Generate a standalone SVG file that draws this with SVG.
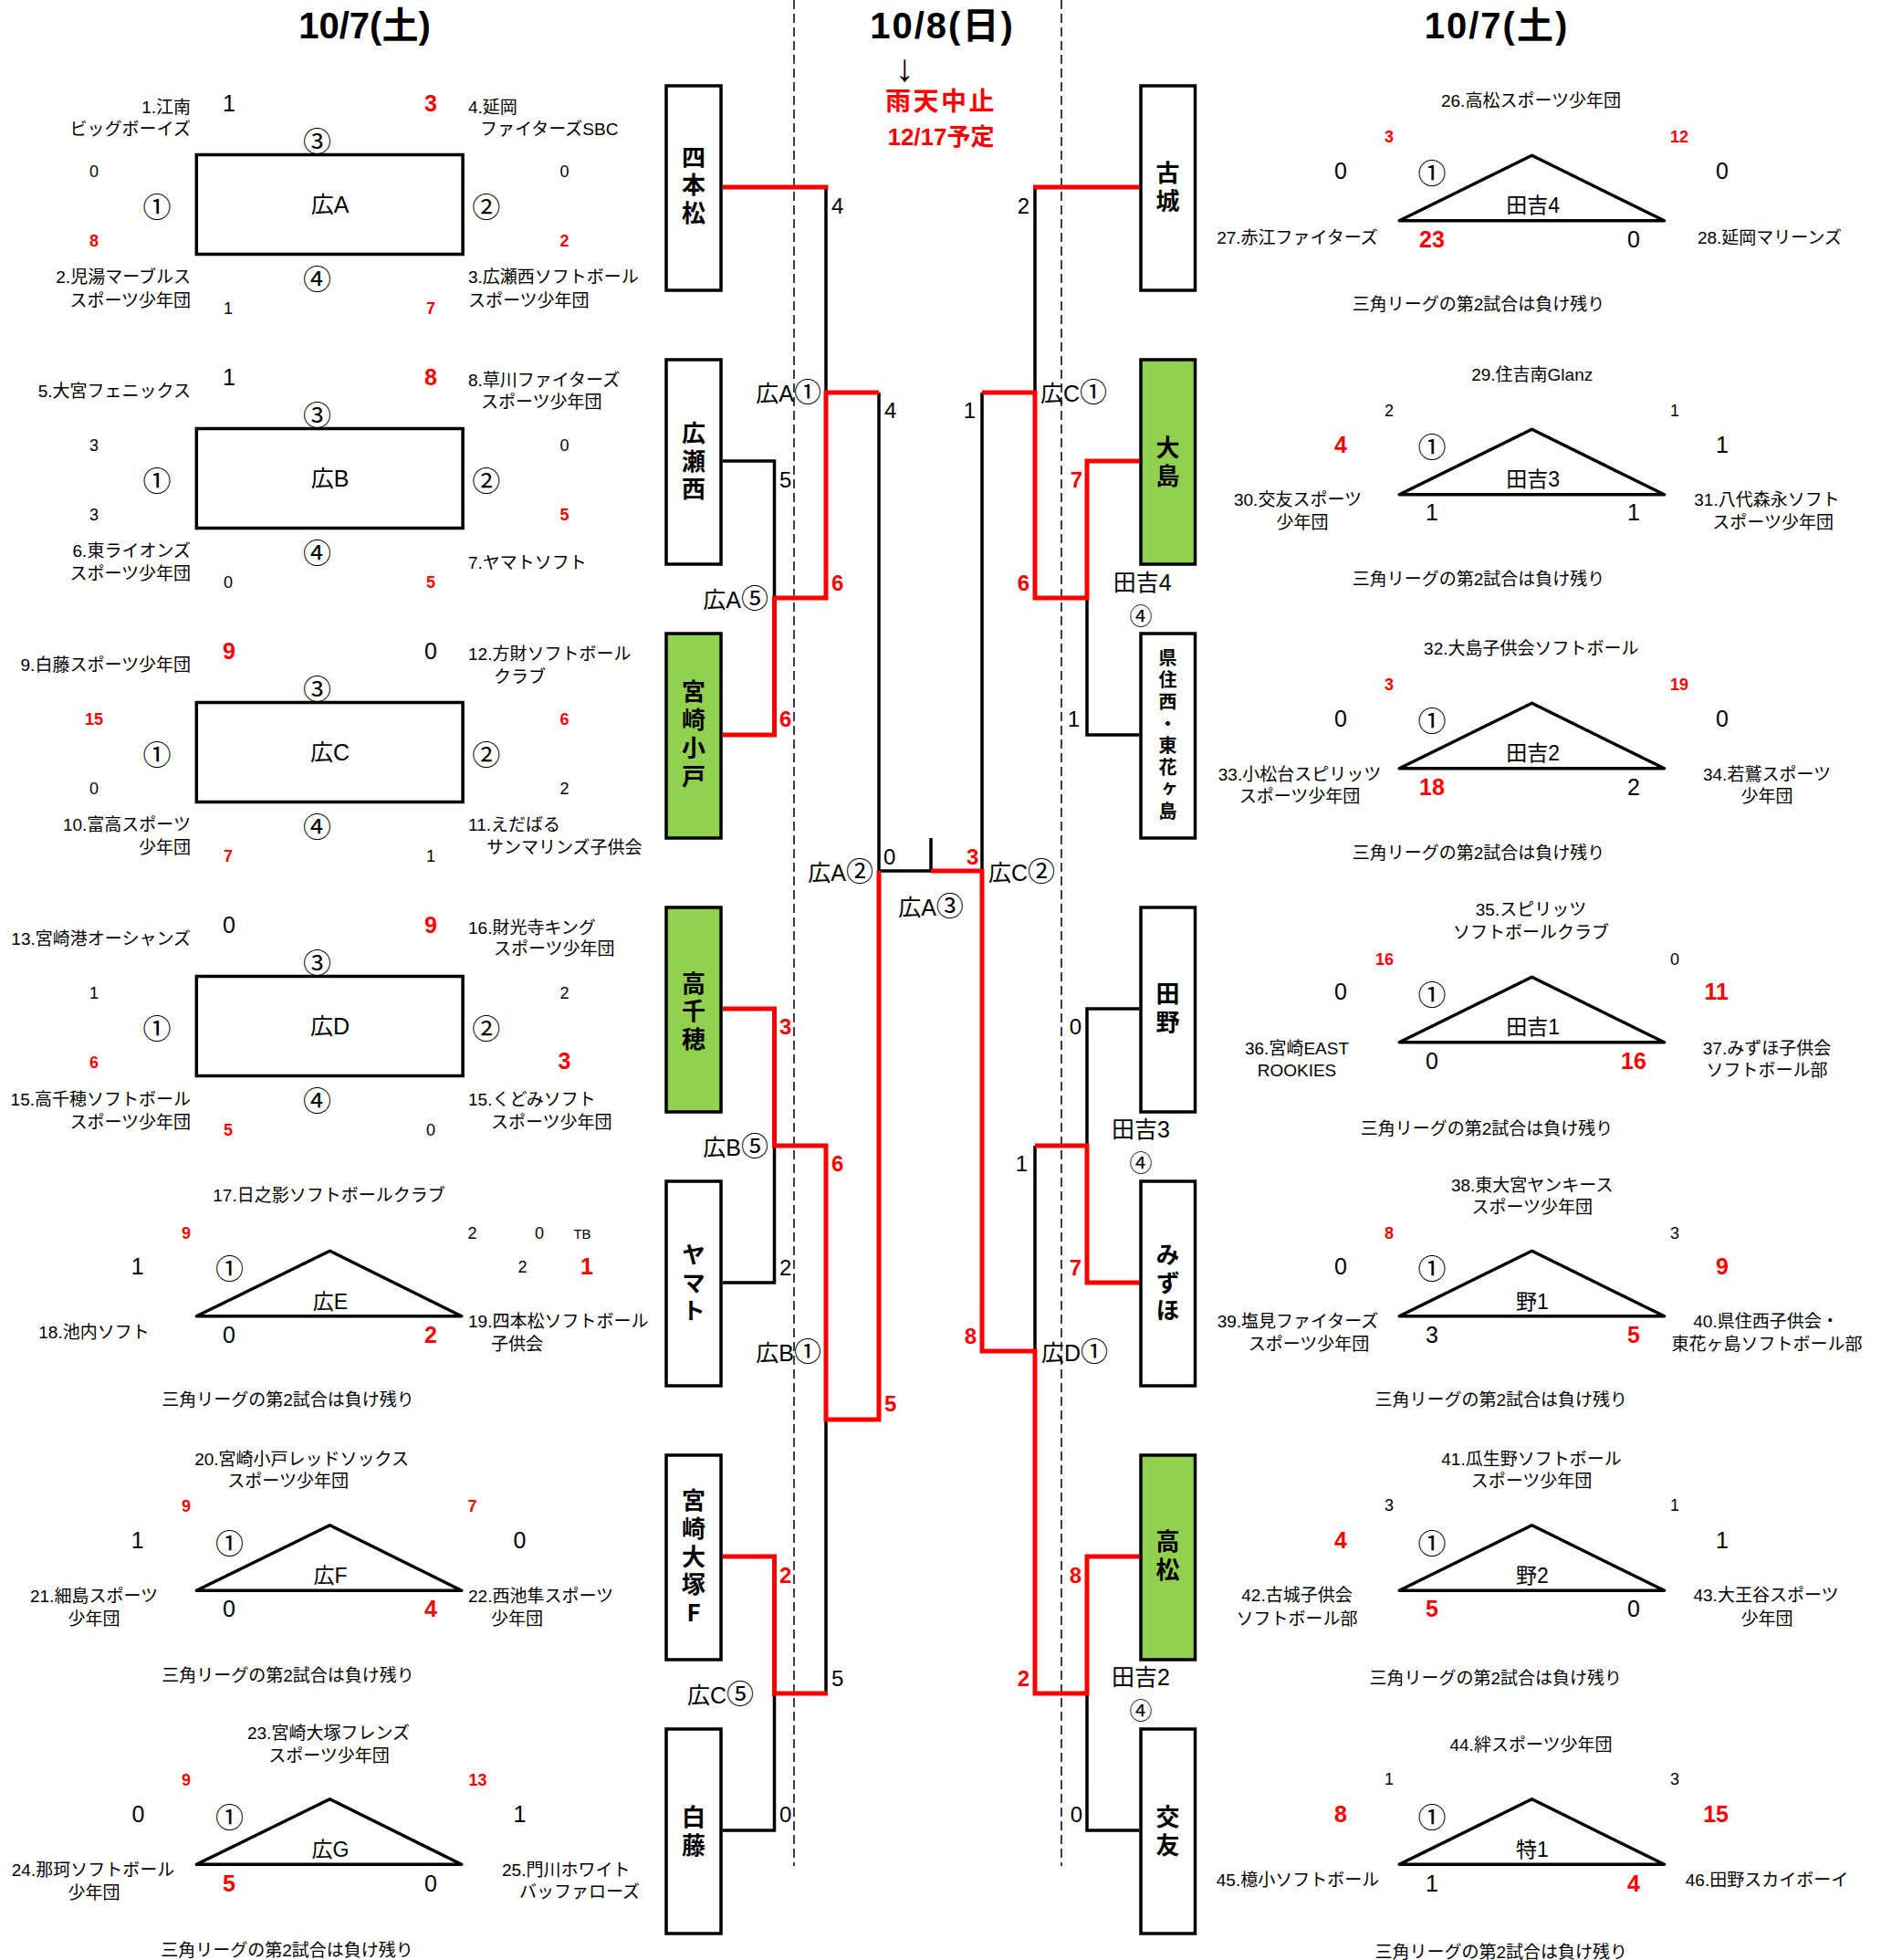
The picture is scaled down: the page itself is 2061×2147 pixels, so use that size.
<svg xmlns="http://www.w3.org/2000/svg" width="2061" height="2147" viewBox="0 0 2061 2147">
<style>
text{font-family:"Liberation Sans","Noto Sans CJK JP",sans-serif;fill:#000}
.n{font-size:19px}
.m{text-anchor:middle}
.e{text-anchor:end}
.big{font-size:25px;text-anchor:middle}
.sm{font-size:18px;text-anchor:middle}
.r{fill:#f00;font-weight:bold}
.c{font-family:"Noto Sans CJK JP",sans-serif;font-size:31px;text-anchor:middle;dominant-baseline:central}
.ci{font-family:"Noto Sans CJK JP",sans-serif;font-size:30px}
.c4{font-family:"Noto Sans CJK JP",sans-serif;font-size:25px;text-anchor:middle}
.lb{font-size:25px;text-anchor:middle}
.tl{font-size:23px;text-anchor:middle}
.bl{font-size:25px}
.sc{font-size:24px}
.title{font-size:40px;font-weight:bold;text-anchor:middle}
.vt{font-family:"Noto Sans CJK JP",sans-serif;font-size:26px;font-weight:bold;text-anchor:middle;writing-mode:vertical-rl;text-orientation:upright;letter-spacing:4.5px}
.frame{fill:none;stroke:#000;stroke-width:3.5}
.tri{fill:none;stroke:#000;stroke-width:3.5;stroke-linejoin:round}
.box{fill:#fff;stroke:#000;stroke-width:3.5}
.g{fill:#92D050}
.k{fill:none;stroke:#000;stroke-width:3.5}
.rd{fill:none;stroke:#f00;stroke-width:5}
.dash{stroke:#000;stroke-width:1.5;stroke-dasharray:10 5}
</style>
<rect width="2061" height="2147" fill="#fff"/>

<g id="titles">
<text class="title" x="399.5" y="42">10/7(土)</text>
<text class="title" x="1032.5" y="42" letter-spacing="2">10/8(日)</text>
<text class="title" x="1640" y="42" letter-spacing="2">10/7(土)</text>
<text x="991" y="89" font-family="Noto Sans CJK JP,sans-serif" font-size="42" text-anchor="middle">↓</text>
<text x="1031" y="121" font-size="28" font-weight="bold" text-anchor="middle" letter-spacing="2.5" style="fill:#f00">雨天中止</text>
<text x="1031" y="159" font-size="26" font-weight="bold" text-anchor="middle" style="fill:#f00">12/17予定</text>
</g>

<g id="dashes">
<line class="dash" x1="870" y1="0" x2="870" y2="2044"/>
<line class="dash" x1="1163" y1="0" x2="1163" y2="2044"/>
</g>

<!-- Left rectangle groups -->
<g id="grpA">
<rect class="frame" x="215.3" y="169.5" width="291.8" height="109"/>
<text class="lb" x="361.5" y="233">広A</text>
<text class="c" x="347.6" y="152">③</text><text class="c" x="172" y="224">①</text><text class="c" x="532.7" y="224">②</text><text class="c" x="347.6" y="303">④</text>
<text class="big" x="251" y="121.5">1</text><text class="big r" x="472" y="121.5">3</text>
<text class="sm" x="103" y="193.5">0</text><text class="sm" x="618.5" y="193.5">0</text>
<text class="sm r" x="103" y="269.6">8</text><text class="sm r" x="618.5" y="269.6">2</text>
<text class="sm" x="250" y="343.5">1</text><text class="sm r" x="472" y="343.5">7</text>
<text class="n e" x="209" y="124">1.江南</text><text class="n e" x="209" y="148">ビッグボーイズ</text>
<text class="n" x="513" y="124">4.延岡</text><text class="n" x="526" y="148">ファイターズSBC</text>
<text class="n e" x="209" y="310">2.児湯マーブルス</text><text class="n e" x="209" y="336">スポーツ少年団</text>
<text class="n" x="513" y="310">3.広瀬西ソフトボール</text><text class="n" x="513" y="336">スポーツ少年団</text>
</g>
<g id="grpB">
<rect class="frame" x="215.3" y="469.5" width="291.8" height="109"/>
<text class="lb" x="361.5" y="533">広B</text>
<text class="c" x="347.6" y="452">③</text><text class="c" x="172" y="524">①</text><text class="c" x="532.7" y="524">②</text><text class="c" x="347.6" y="603">④</text>
<text class="big" x="251" y="421.5">1</text><text class="big r" x="472" y="421.5">8</text>
<text class="sm" x="103" y="493.5">3</text><text class="sm" x="618.5" y="493.5">0</text>
<text class="sm" x="103" y="569.6">3</text><text class="sm r" x="618.5" y="569.6">5</text>
<text class="sm" x="250" y="643.5">0</text><text class="sm r" x="472" y="643.5">5</text>
<text class="n e" x="209" y="435">5.大宮フェニックス</text>
<text class="n" x="513" y="423">8.草川ファイターズ</text><text class="n" x="527" y="447">スポーツ少年団</text>
<text class="n e" x="209" y="610">6.東ライオンズ</text><text class="n e" x="209" y="635">スポーツ少年団</text>
<text class="n" x="513" y="623">7.ヤマトソフト</text>
</g>
<g id="grpC">
<rect class="frame" x="215.3" y="769.5" width="291.8" height="109"/>
<text class="lb" x="361.5" y="833">広C</text>
<text class="c" x="347.6" y="752">③</text><text class="c" x="172" y="824">①</text><text class="c" x="532.7" y="824">②</text><text class="c" x="347.6" y="903">④</text>
<text class="big r" x="251" y="721.5">9</text><text class="big" x="472" y="721.5">0</text>
<text class="sm r" x="103" y="793.5">15</text><text class="sm r" x="618.5" y="793.5">6</text>
<text class="sm" x="103" y="869.6">0</text><text class="sm" x="618.5" y="869.6">2</text>
<text class="sm r" x="250" y="943.5">7</text><text class="sm" x="472" y="943.5">1</text>
<text class="n e" x="209" y="735">9.白藤スポーツ少年団</text>
<text class="n" x="513" y="723">12.方財ソフトボール</text><text class="n" x="541" y="748">クラブ</text>
<text class="n e" x="209" y="910">10.富高スポーツ</text><text class="n e" x="209" y="935">少年団</text>
<text class="n" x="513" y="910">11.えだばる</text><text class="n" x="533" y="935">サンマリンズ子供会</text>
</g>
<g id="grpD">
<rect class="frame" x="215.3" y="1069.5" width="291.8" height="109"/>
<text class="lb" x="361.5" y="1133">広D</text>
<text class="c" x="347.6" y="1052">③</text><text class="c" x="172" y="1124">①</text><text class="c" x="532.7" y="1124">②</text><text class="c" x="347.6" y="1203">④</text>
<text class="big" x="251" y="1021.5">0</text><text class="big r" x="472" y="1021.5">9</text>
<text class="sm" x="103" y="1093.5">1</text><text class="sm" x="618.5" y="1093.5">2</text>
<text class="sm r" x="103" y="1169.6">6</text><text class="big r" x="618.5" y="1171">3</text>
<text class="sm r" x="250" y="1243.5">5</text><text class="sm" x="472" y="1243.5">0</text>
<text class="n e" x="209" y="1035">13.宮崎港オーシャンズ</text>
<text class="n" x="513" y="1023">16.財光寺キング</text><text class="n" x="541" y="1046">スポーツ少年団</text>
<text class="n e" x="209" y="1211">15.高千穂ソフトボール</text><text class="n e" x="209" y="1236">スポーツ少年団</text>
<text class="n" x="513" y="1211">15.くどみソフト</text><text class="n" x="538" y="1236">スポーツ少年団</text>
</g>

<!-- Left triangles -->
<g id="grpE">
<polygon class="tri" points="215.3,1441.8 361.4,1370.3 505.7,1441.8"/>
<text class="tl" x="362" y="1433.5">広E</text>
<text class="n m" x="360.5" y="1316">17.日之影ソフトボールクラブ</text>
<text class="sm r" x="204" y="1356.7">9</text><text class="sm" x="517.5" y="1357">2</text><text class="sm" x="591" y="1357">0</text>
<text x="638" y="1357" font-size="15" text-anchor="middle">TB</text>
<text class="big" x="150.6" y="1396">1</text><text class="c" x="251.6" y="1387.7">①</text>
<text class="sm" x="572.6" y="1394">2</text><text class="big r" x="643" y="1396">1</text>
<text class="n m" x="103" y="1466">18.池内ソフト</text>
<text class="big" x="251" y="1471">0</text><text class="big r" x="472" y="1471">2</text>
<text class="n" x="513" y="1454">19.四本松ソフトボール</text><text class="n" x="538" y="1479">子供会</text>
<text class="n m" x="315.6" y="1539.5">三角リーグの第2試合は負け残り</text>
</g>
<g id="grpF">
<polygon class="tri" points="215.3,1742.3 361.4,1670.8 505.7,1742.3"/>
<text class="tl" x="362" y="1734">広F</text>
<text class="n m" x="330.6" y="1604.5">20.宮崎小戸レッドソックス</text><text class="n m" x="315.6" y="1629">スポーツ少年団</text>
<text class="sm r" x="204" y="1656.3">9</text><text class="sm r" x="517.5" y="1656.3">7</text>
<text class="big" x="150.6" y="1695.6">1</text><text class="c" x="251.6" y="1688.5">①</text><text class="big" x="569.4" y="1695.6">0</text>
<text class="n m" x="103" y="1755">21.細島スポーツ</text><text class="n m" x="103" y="1779.7">少年団</text>
<text class="big" x="251" y="1771">0</text><text class="big r" x="472" y="1771">4</text>
<text class="n" x="513" y="1755">22.西池隼スポーツ</text><text class="n" x="538" y="1779.7">少年団</text>
<text class="n m" x="315.6" y="1841.5">三角リーグの第2試合は負け残り</text>
</g>
<g id="grpG">
<polygon class="tri" points="215.3,2042.3 361.4,1970.8 505.7,2042.3"/>
<text class="tl" x="362" y="2034">広G</text>
<text class="n m" x="360" y="1905">23.宮崎大塚フレンズ</text><text class="n m" x="360.5" y="1930">スポーツ少年団</text>
<text class="sm r" x="204" y="1956">9</text><text class="sm r" x="513.4" y="1956" style="text-anchor:start">13</text>
<text class="big" x="151.5" y="1996.4">0</text><text class="c" x="251.6" y="1988">①</text><text class="big" x="569.4" y="1996">1</text>
<text class="n m" x="102" y="2055">24.那珂ソフトボール</text><text class="n m" x="103" y="2079.5">少年団</text>
<text class="big r" x="251" y="2072">5</text><text class="big" x="472" y="2072">0</text>
<text class="n" x="550" y="2055">25.門川ホワイト</text><text class="n" x="569" y="2079">バッファローズ</text>
<text class="n m" x="314.6" y="2142.5">三角リーグの第2試合は負け残り</text>
</g>

<!-- Right triangles -->
<g id="grpT4">
<polygon class="tri" points="1533.2,241.8 1678.5,170.3 1823.5,241.8"/>
<text class="tl" x="1679.6" y="232.5">田吉4</text>
<text class="n m" x="1677.5" y="117">26.高松スポーツ少年団</text>
<text class="sm r" x="1527" y="156.4" style="text-anchor:end">3</text><text class="sm r" x="1830" y="156.4" style="text-anchor:start">12</text>
<text class="big" x="1469" y="195.7">0</text><text class="c" x="1569" y="187.5">①</text><text class="big" x="1894" y="195.7" style="text-anchor:end">0</text>
<text class="n m" x="1421.5" y="267">27.赤江ファイターズ</text>
<text class="big r" x="1569" y="271.4">23</text><text class="big" x="1790" y="271.4">0</text>
<text class="n m" x="1939" y="267">28.延岡マリーンズ</text>
<text class="n m" x="1620" y="340">三角リーグの第2試合は負け残り</text>
</g>
<g id="grpT3">
<polygon class="tri" points="1533.2,541.8 1678.5,470.3 1823.5,541.8"/>
<text class="tl" x="1679.6" y="532.5">田吉3</text>
<text class="n m" x="1678.7" y="417">29.住吉南Glanz</text>
<text class="sm" x="1527" y="456" style="text-anchor:end">2</text><text class="sm" x="1830" y="456" style="text-anchor:start">1</text>
<text class="big r" x="1469" y="496.4">4</text><text class="c" x="1569" y="487.5">①</text><text class="big" x="1894" y="496.4" style="text-anchor:end">1</text>
<text class="n m" x="1422" y="554">30.交友スポーツ</text><text class="n m" x="1427" y="579">少年団</text>
<text class="big" x="1569" y="570">1</text><text class="big" x="1790" y="570">1</text>
<text class="n m" x="1936" y="554">31.八代森永ソフト</text><text class="n m" x="1942.6" y="579">スポーツ少年団</text>
<text class="n m" x="1620" y="640.8">三角リーグの第2試合は負け残り</text>
</g>
<g id="grpT2">
<polygon class="tri" points="1533.2,841.8 1678.5,770.3 1823.5,841.8"/>
<text class="tl" x="1679.6" y="832.5">田吉2</text>
<text class="n m" x="1677.8" y="717">32.大島子供会ソフトボール</text>
<text class="sm r" x="1527" y="756" style="text-anchor:end">3</text><text class="sm r" x="1830" y="756" style="text-anchor:start">19</text>
<text class="big" x="1469" y="796.4">0</text><text class="c" x="1569" y="787.5">①</text><text class="big" x="1894" y="796.4" style="text-anchor:end">0</text>
<text class="n m" x="1424" y="855">33.小松台スピリッツ</text><text class="n m" x="1424" y="879">スポーツ少年団</text>
<text class="big r" x="1569" y="871.4">18</text><text class="big" x="1790" y="871.4">2</text>
<text class="n m" x="1936" y="855">34.若鷲スポーツ</text><text class="n m" x="1936" y="879">少年団</text>
<text class="n m" x="1620" y="940.7">三角リーグの第2試合は負け残り</text>
</g>
<g id="grpT1">
<polygon class="tri" points="1533.2,1141.8 1678.5,1070.3 1823.5,1141.8"/>
<text class="tl" x="1679.6" y="1132.5">田吉1</text>
<text class="n m" x="1677.5" y="1003">35.スピリッツ</text><text class="n m" x="1677.5" y="1028">ソフトボールクラブ</text>
<text class="sm r" x="1527" y="1057" style="text-anchor:end">16</text><text class="sm" x="1830" y="1057" style="text-anchor:start">0</text>
<text class="big" x="1469" y="1095">0</text><text class="c" x="1569" y="1087.5">①</text><text class="big r" x="1894" y="1095" style="text-anchor:end">11</text>
<text class="n m" x="1421" y="1154.7">36.宮崎EAST</text><text class="n m" x="1421" y="1179">ROOKIES</text>
<text class="big" x="1569" y="1171">0</text><text class="big r" x="1790" y="1171">16</text>
<text class="n m" x="1936" y="1154.7">37.みずほ子供会</text><text class="n m" x="1936" y="1179">ソフトボール部</text>
<text class="n m" x="1629" y="1242.5">三角リーグの第2試合は負け残り</text>
</g>
<g id="grpN1">
<polygon class="tri" points="1533.2,1441.8 1678.5,1370.3 1823.5,1441.8"/>
<text class="tl" x="1679" y="1433.5">野1</text>
<text class="n m" x="1678.7" y="1304.7">38.東大宮ヤンキース</text><text class="n m" x="1678.7" y="1329">スポーツ少年団</text>
<text class="sm r" x="1527" y="1356.7" style="text-anchor:end">8</text><text class="sm" x="1830" y="1356.7" style="text-anchor:start">3</text>
<text class="big" x="1469" y="1396">0</text><text class="c" x="1569" y="1387.7">①</text><text class="big r" x="1894" y="1396" style="text-anchor:end">9</text>
<text class="n m" x="1422" y="1454">39.塩見ファイターズ</text><text class="n m" x="1434" y="1479">スポーツ少年団</text>
<text class="big" x="1569" y="1471">3</text><text class="big r" x="1790" y="1471">5</text>
<text class="n m" x="1935" y="1454">40.県住西子供会・</text><text class="n m" x="1936" y="1479">東花ヶ島ソフトボール部</text>
<text class="n m" x="1644.7" y="1539.7">三角リーグの第2試合は負け残り</text>
</g>
<g id="grpN2">
<polygon class="tri" points="1533.2,1742.3 1678.5,1670.8 1823.5,1742.3"/>
<text class="tl" x="1679" y="1734">野2</text>
<text class="n m" x="1678" y="1604.6">41.瓜生野ソフトボール</text><text class="n m" x="1678" y="1629">スポーツ少年団</text>
<text class="sm" x="1527" y="1655.3" style="text-anchor:end">3</text><text class="sm" x="1830" y="1655.3" style="text-anchor:start">1</text>
<text class="big r" x="1469" y="1695.6">4</text><text class="c" x="1569" y="1688.5">①</text><text class="big" x="1894" y="1695.6" style="text-anchor:end">1</text>
<text class="n m" x="1421" y="1754">42.古城子供会</text><text class="n m" x="1421" y="1779.7">ソフトボール部</text>
<text class="big r" x="1569" y="1771">5</text><text class="big" x="1790" y="1771">0</text>
<text class="n m" x="1935" y="1754">43.大王谷スポーツ</text><text class="n m" x="1936" y="1779.7">少年団</text>
<text class="n m" x="1638.8" y="1844.9">三角リーグの第2試合は負け残り</text>
</g>
<g id="grpS1">
<polygon class="tri" points="1533.2,2042.3 1678.5,1970.8 1823.5,2042.3"/>
<text class="tl" x="1679" y="2034">特1</text>
<text class="n m" x="1677.5" y="1917.5">44.絆スポーツ少年団</text>
<text class="sm" x="1527" y="1955.4" style="text-anchor:end">1</text><text class="sm" x="1830" y="1955.4" style="text-anchor:start">3</text>
<text class="big r" x="1469" y="1996.4">8</text><text class="c" x="1569" y="1988">①</text><text class="big r" x="1894" y="1996.4" style="text-anchor:end">15</text>
<text class="n m" x="1422" y="2066">45.檍小ソフトボール</text>
<text class="big" x="1569" y="2072">1</text><text class="big r" x="1790" y="2072">4</text>
<text class="n m" x="1936" y="2066">46.田野スカイボーイ</text>
<text class="n m" x="1644.7" y="2145">三角リーグの第2試合は負け残り</text>
</g>

<!-- Bracket connectors -->
<g id="connectors">
<path class="k" d="M905 205V430"/>
<path class="k" d="M792 505H848.5V655"/>
<path class="k" d="M963 430V954H1020"/>
<path class="k" d="M1020 918V954"/>
<path class="k" d="M792 1405H848.5V1255"/>
<path class="k" d="M905 1555V1855"/>
<path class="k" d="M792 2005H848.5V1855"/>
<path class="k" d="M1134 205V430"/>
<path class="k" d="M1076 430V954"/>
<path class="k" d="M1248 805H1191V655"/>
<path class="k" d="M1248 1105H1191V1255"/>
<path class="k" d="M1134 1255V1480"/>
<path class="k" d="M1248 2005H1191V1855"/>
<path class="rd" d="M792 205H907.5"/>
<path class="rd" d="M792 805H848.5V655H905V430H963"/>
<path class="rd" d="M792 1105H848.5V1255H905V1555H963V954"/>
<path class="rd" d="M792 1705H848.5V1855H907"/>
<path class="rd" d="M1020 954H1076V1480H1134V1855H1191V1705H1248"/>
<path class="rd" d="M1132 205H1248"/>
<path class="rd" d="M1248 505H1191V655H1134V430H1076"/>
<path class="rd" d="M1248 1405H1191V1255H1134"/>
</g>

<g id="bracket-labels">
<text class="bl" x="900" y="440" text-anchor="end">広A<tspan class="ci">①</tspan></text>
<text class="bl" x="842" y="666" text-anchor="end">広A<tspan class="ci">⑤</tspan></text>
<text class="bl" x="957" y="965" text-anchor="end">広A<tspan class="ci">②</tspan></text>
<text class="bl" x="1020" y="1003" text-anchor="middle">広A<tspan class="ci">③</tspan></text>
<text class="bl" x="1083" y="965">広C<tspan class="ci">②</tspan></text>
<text class="bl" x="1140" y="440">広C<tspan class="ci">①</tspan></text>
<text class="bl" x="1251.6" y="647" text-anchor="middle">田吉4</text>
<text class="c4" x="1250" y="684">④</text>
<text class="bl" x="842" y="1266" text-anchor="end">広B<tspan class="ci">⑤</tspan></text>
<text class="bl" x="900" y="1491" text-anchor="end">広B<tspan class="ci">①</tspan></text>
<text class="bl" x="1141" y="1491">広D<tspan class="ci">①</tspan></text>
<text class="bl" x="1250" y="1246" text-anchor="middle">田吉3</text>
<text class="c4" x="1250" y="1283">④</text>
<text class="bl" x="826" y="1866" text-anchor="end">広C<tspan class="ci">⑤</tspan></text>
<text class="bl" x="1250" y="1846" text-anchor="middle">田吉2</text>
<text class="c4" x="1250" y="1883">④</text>
</g>

<g id="bracket-scores">
<text class="sc" x="911" y="234">4</text>
<text class="sc" x="969" y="458">4</text>
<text class="sc" x="854" y="534">5</text>
<text class="sc r" x="911" y="647">6</text>
<text class="sc r" x="854" y="796">6</text>
<text class="sc" x="968" y="947">0</text>
<text class="sc r" x="1059" y="947">3</text>
<text class="sc r" x="854" y="1133">3</text>
<text class="sc r" x="911" y="1283">6</text>
<text class="sc" x="854" y="1397">2</text>
<text class="sc r" x="969" y="1546">5</text>
<text class="sc r" x="854" y="1734">2</text>
<text class="sc" x="911" y="1847">5</text>
<text class="sc" x="854" y="1996">0</text>
<text class="sc" x="1128" y="234" text-anchor="end">2</text>
<text class="sc" x="1069" y="458" text-anchor="end">1</text>
<text class="sc r" x="1186" y="534" text-anchor="end">7</text>
<text class="sc r" x="1128" y="647" text-anchor="end">6</text>
<text class="sc" x="1183" y="796" text-anchor="end">1</text>
<text class="sc" x="1185" y="1133" text-anchor="end">0</text>
<text class="sc" x="1126" y="1283" text-anchor="end">1</text>
<text class="sc r" x="1185" y="1397" text-anchor="end">7</text>
<text class="sc r" x="1070" y="1472" text-anchor="end">8</text>
<text class="sc r" x="1185" y="1734" text-anchor="end">8</text>
<text class="sc r" x="1128" y="1847" text-anchor="end">2</text>
<text class="sc" x="1186" y="1996" text-anchor="end">0</text>
</g>

<!-- Team boxes left -->
<g id="box-yonhonmatsu"><rect class="box" x="730" y="94" width="60" height="224"/><text class="vt" x="760" y="204.5">四本松</text></g>
<g id="box-hirosenishi"><rect class="box" x="730" y="394" width="60" height="224"/><text class="vt" x="760" y="507">広瀬西</text></g>
<g id="box-miyazakiotobe"><rect class="box g" x="730" y="694" width="60" height="224"/><text class="vt" x="760" y="806.5" style="letter-spacing:5px">宮崎小戸</text></g>
<g id="box-takachiho"><rect class="box g" x="730" y="994" width="60" height="224"/><text class="vt" x="760" y="1109.5">高千穂</text></g>
<g id="box-yamato"><rect class="box" x="730" y="1294" width="60" height="224"/><text class="vt" x="760" y="1407">ヤマト</text></g>
<g id="box-miyazakiotsuka"><rect class="box" x="730" y="1594" width="60" height="224"/><text class="vt" x="760" y="1707" style="letter-spacing:4.75px">宮崎大塚F</text></g>
<g id="box-shirafuji"><rect class="box" x="730" y="1894" width="60" height="224"/><text class="vt" x="760" y="2008">白藤</text></g>

<!-- Team boxes right -->
<g id="box-furujo"><rect class="box" x="1250" y="94" width="59.5" height="224"/><text class="vt" x="1279.5" y="207">古城</text></g>
<g id="box-oshima"><rect class="box g" x="1250" y="394" width="59.5" height="224"/><text class="vt" x="1279.5" y="508">大島</text></g>
<g id="box-kenjunishi"><rect class="box" x="1250" y="694" width="59.5" height="224"/><text class="vt" x="1279.5" y="806" style="font-size:20px;letter-spacing:4px">県住西・東花ヶ島</text></g>
<g id="box-tano"><rect class="box" x="1250" y="994" width="59.5" height="224"/><text class="vt" x="1279.5" y="1106">田野</text></g>
<g id="box-mizuho"><rect class="box" x="1250" y="1294" width="59.5" height="224"/><text class="vt" x="1279.5" y="1407">みずほ</text></g>
<g id="box-takamatsu"><rect class="box g" x="1250" y="1594" width="59.5" height="224"/><text class="vt" x="1279.5" y="1706">高松</text></g>
<g id="box-koyu"><rect class="box" x="1250" y="1894" width="59.5" height="224"/><text class="vt" x="1279.5" y="2008">交友</text></g>
</svg>
